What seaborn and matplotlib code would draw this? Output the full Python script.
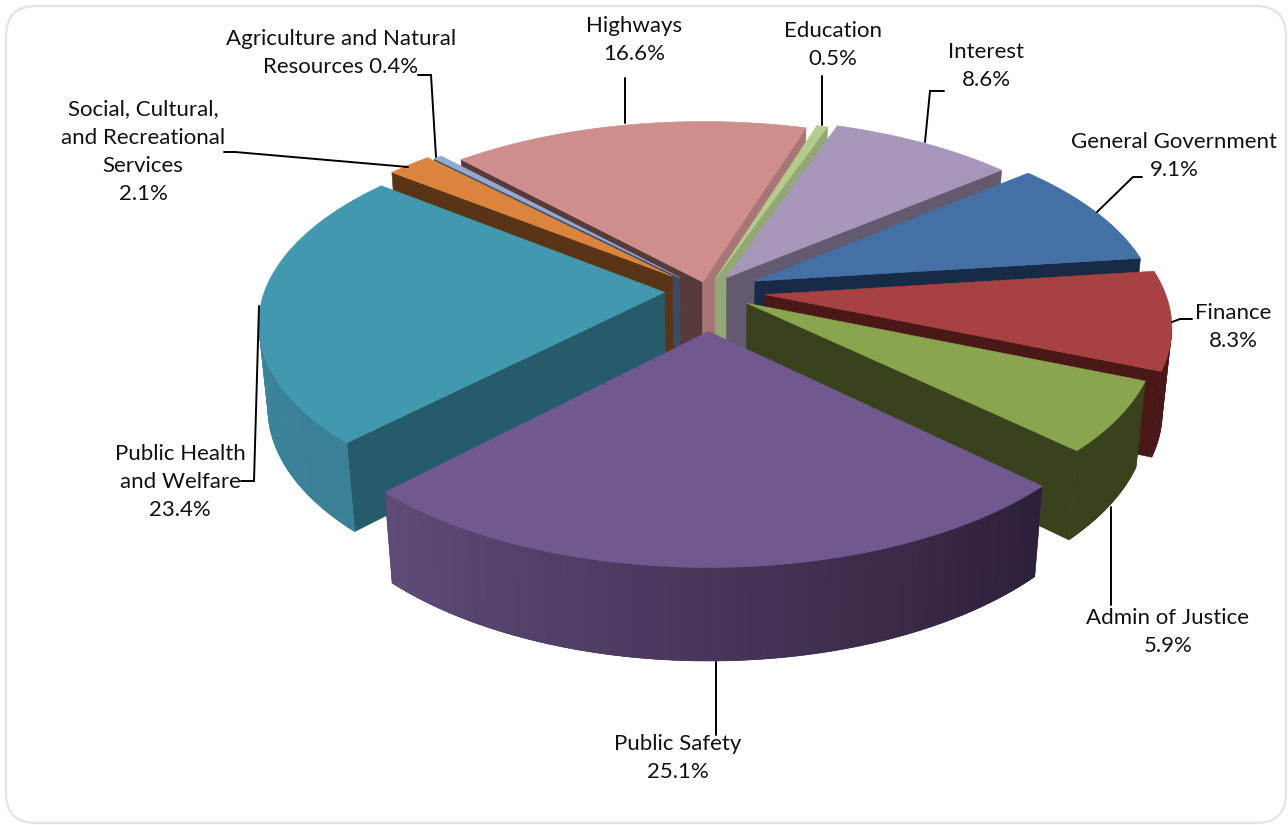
import numpy as np
import pandas as pd
import seaborn as sns
import matplotlib
matplotlib.use("Agg")
import matplotlib.pyplot as plt
from matplotlib.patches import FancyBboxPatch

# Expenditure shares, clockwise from the top of the pie
categories = ["Education", "Interest", "General Government", "Finance", "Admin of Justice",
              "Public Safety", "Public Health and Welfare",
              "Social, Cultural, and Recreational Services",
              "Agriculture and Natural Resources", "Highways"]
shares = [0.5, 8.6, 9.1, 8.3, 5.9, 25.1, 23.4, 2.1, 0.4, 16.6]

# Slice styling, same order as the categories
explode = [0.068, 0.088, 0.132, 0.145, 0.118, 0.21, 0.106, 0.118, 0.10, 0.05]
top_colors = ["#B5CB8D", "#A596BA", "#4470A6", "#A84242", "#89A54E",
              "#71588F", "#4198AF", "#DB843D", "#93A9CF", "#CE8E8D"]
start_face = ["#8FA676", "#64596F", "#172B46", "#4B1818", "#38421C",
              "#2E2039", "#265C6A", "#5A3416", "#3C4B64", "#583A3A"]
end_face = ["#93A675", "#645A70", "#172B46", "#4B1818", "#38421C",
            "#2E2039", "#265C6A", "#5A3416", "#3C4B64", "#A87676"]
wall_from = ["#93A675", "#645A70", "#172B46", "#4B1818", "#38421C",
             "#2D203A", "#3A8096", "#5A3416", "#3C4B64", "#A87676"]
wall_to = ["#93A675", "#645A70", "#172B46", "#4B1818", "#38421C",
           "#5F4B78", "#3E8CA3", "#5A3416", "#3C4B64", "#A87676"]

# Projection of the pie disc onto the page, in pixels
START_DEG = 17.2
CX, CY = 707.0, 291.0
RX, RY, DEPTH = 400.0, 187.0, 84.0
PERSP_Y, PERSP_Z = 0.15, 0.02


def project(x, y, z=0.0):
    w = 1.0 / (1.0 + PERSP_Y * np.asarray(y) + PERSP_Z * z)
    return CX + RX * np.asarray(x) * w, CY - RY * np.asarray(y) * w + DEPTH * z * w


sns.set_theme(style="white")
plt.rcParams["font.family"] = ["Lato", "DejaVu Sans"]

frame = pd.DataFrame({"category": categories, "share": shares, "explode": explode,
                      "top": top_colors, "start_face": start_face, "end_face": end_face,
                      "wall_from": wall_from, "wall_to": wall_to})
frame["start"] = START_DEG + 3.6 * (frame["share"].cumsum() - frame["share"])
frame["end"] = START_DEG + 3.6 * frame["share"].cumsum()
frame["mid"] = (frame["start"] + frame["end"]) / 2
frame["back"] = np.cos(np.radians(frame["mid"]))

fig = plt.figure(figsize=(12.88, 8.25), dpi=100)
ax = fig.add_axes([0, 0, 1, 1])
ax.set_xlim(0, 1288)
ax.set_ylim(825, 0)
ax.axis("off")

ax.add_patch(FancyBboxPatch((36, 36), 1220, 757, boxstyle="round,pad=30,rounding_size=30",
                            facecolor="white", edgecolor="#E3E3E3", linewidth=1.6))

camera = np.array([0.0, -1.0 / PERSP_Y])


def solid(points, color, z):
    ax.fill(points[0], points[1], facecolor=color, edgecolor=color, linewidth=0.4, zorder=z)


# Slices are painted from the back of the pie to the front
for order, row in enumerate(frame.sort_values("back", ascending=False).itertuples()):
    z = 2 + order
    m = np.radians(row.mid)
    ax0, ay0 = row.explode * np.sin(m), row.explode * np.cos(m)
    to_cam = camera - np.array([ax0, ay0])

    # Radial cut faces, kept only when they turn towards the viewer
    for angle, normal_sign, color in ((row.start, -1, row.start_face), (row.end, 1, row.end_face)):
        t = np.radians(angle)
        normal = normal_sign * np.array([np.cos(t), -np.sin(t)])
        if normal @ to_cam > 0:
            xo, yo = ax0 + np.sin(t), ay0 + np.cos(t)
            a = project(ax0, ay0)
            b = project(xo, yo)
            c = project(xo, yo, 1.0)
            d = project(ax0, ay0, 1.0)
            solid(([a[0], b[0], c[0], d[0]], [a[1], b[1], c[1], d[1]]), color, z)

    # Outer wall: strips along the arc, over a solid base that closes any seams
    edges = np.radians(np.linspace(row.start, row.end, int(max(row.end - row.start, 2)) + 1))
    strip_colors = sns.blend_palette([row.wall_from, row.wall_to], len(edges) - 1)
    overlap = np.radians(0.7)
    facing = []
    for t0, t1 in zip(edges[:-1], edges[1:]):
        tm = (t0 + t1) / 2
        radial = np.array([np.sin(tm), np.cos(tm)])
        facing.append(radial @ (camera - np.array([ax0, ay0]) - radial) > 0)
    facing = np.array(facing)
    if facing.any():
        lit = np.r_[edges[:-1][facing], edges[1:][facing][-1]]
        wx, wy = ax0 + np.sin(lit), ay0 + np.cos(lit)
        upper, lower = project(wx, wy), project(wx, wy, 1.0)
        solid((np.r_[upper[0], lower[0][::-1]], np.r_[upper[1], lower[1][::-1]]),
              strip_colors[len(strip_colors) // 2], z)
    for t0, t1, color, visible in zip(edges[:-1], edges[1:], strip_colors, facing):
        if visible:
            t1 = min(t1 + overlap, edges[-1])
            xs0, ys0 = ax0 + np.sin(t0), ay0 + np.cos(t0)
            xs1, ys1 = ax0 + np.sin(t1), ay0 + np.cos(t1)
            a, b = project(xs0, ys0), project(xs1, ys1)
            c, d = project(xs1, ys1, 1.0), project(xs0, ys0, 1.0)
            ax.fill([a[0], b[0], c[0], d[0]], [a[1], b[1], c[1], d[1]],
                    facecolor=color, edgecolor="none", zorder=z)

    # Top surface
    arc = np.radians(np.linspace(row.start, row.end, int(row.end - row.start) * 2 + 3))
    xs = np.r_[ax0, ax0 + np.sin(arc)]
    ys = np.r_[ay0, ay0 + np.cos(arc)]
    solid(project(xs, ys), row.top, z)

# Data labels: text template, centre position in pixels, leader line in pixels
label_layout = {
    "Agriculture and Natural Resources": ("Agriculture and Natural\nResources {v}", (341, 53),
                                          [(418, 75), (431, 75), (436, 157)]),
    "Social, Cultural, and Recreational Services": ("Social, Cultural,\nand Recreational\nServices\n{v}", (143, 152),
                                                    [(224, 152), (235, 152), (408, 167)]),
    "Highways": ("Highways\n{v}", (634, 40), [(625, 78), (625, 123)]),
    "Education": ("Education\n{v}", (833, 45), [(822, 76), (822, 125)]),
    "Interest": ("Interest\n{v}", (986, 66), [(944, 91), (930, 91), (925, 142)]),
    "General Government": ("General Government\n{v}", (1174, 156), [(1142, 177), (1133, 177), (1097, 212)]),
    "Finance": ("Finance\n{v}", (1233, 327), [(1192, 319), (1180, 319), (1172, 322)]),
    "Admin of Justice": ("Admin of Justice\n{v}", (1168, 632), [(1111, 605), (1111, 507)]),
    "Public Safety": ("Public Safety\n{v}", (678, 758), [(716, 735), (716, 662)]),
    "Public Health and Welfare": ("Public Health\nand Welfare\n{v}", (180, 482), [(241, 481), (254, 481), (259, 306)]),
}

for name, share in zip(categories, shares):
    template, (tx, ty), leader = label_layout[name]
    ax.plot(*zip(*leader), color="black", linewidth=1.4, zorder=30, solid_joinstyle="miter")
    ax.text(tx, ty, template.format(v=f"{share:.1f}%"), ha="center", va="center",
            fontsize=16, color="#111111", linespacing=1.52, zorder=31)

fig.savefig("out.png", dpi=100)
